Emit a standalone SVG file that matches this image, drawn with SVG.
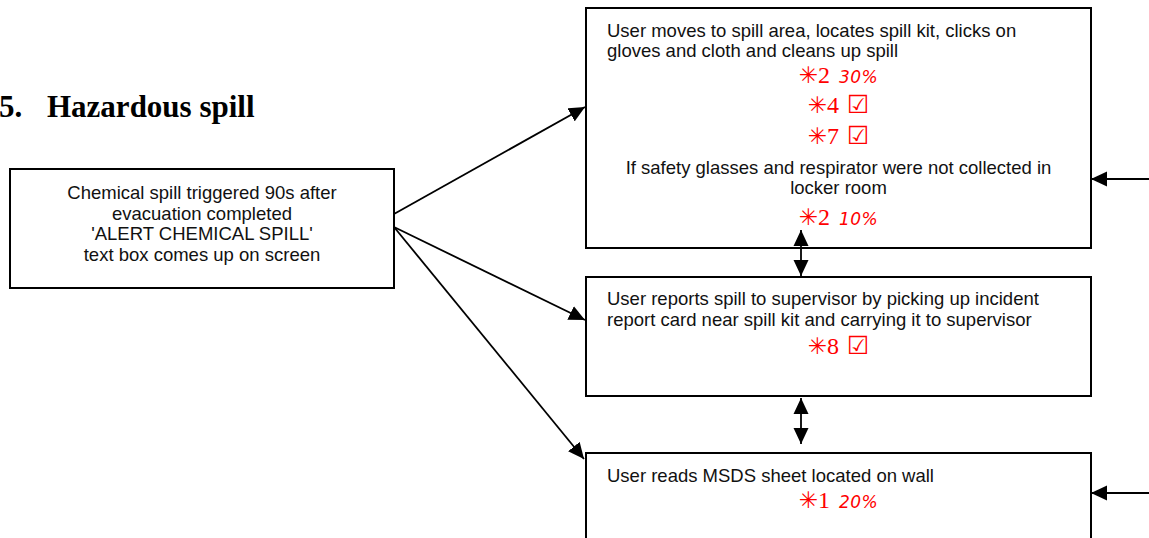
<svg xmlns="http://www.w3.org/2000/svg" width="1149" height="538" viewBox="0 0 1149 538">
<style>
.box{fill:#fff;stroke:#000;stroke-width:2}
.t{font-family:"Liberation Sans",Arial,sans-serif;font-size:18.5px;fill:#111}
.h{font-family:"Liberation Serif","Times New Roman",serif;font-size:31px;font-weight:bold;fill:#000}
.r{fill:#ff0000;text-anchor:middle}
.ast{font-family:"DejaVu Sans",sans-serif;font-size:23px}
.num{font-family:"Liberation Serif","DejaVu Serif",serif;font-size:24px}
.pct{font-family:"DejaVu Sans",sans-serif;font-style:italic;font-size:17px;letter-spacing:0.5px}
.chk{font-family:"DejaVu Sans",sans-serif;font-size:25px}
.c{fill:none;stroke:#000;stroke-width:1.8}
</style>
<defs>
<marker id="ah" markerUnits="userSpaceOnUse" markerWidth="16" markerHeight="16" refX="16" refY="7.5" orient="auto-start-reverse" viewBox="0 0 16 15">
<path d="M0,0 L16,7.5 L0,15 z" fill="#000"/>
</marker>
</defs>
<rect width="1149" height="538" fill="#fff"/>
<text class="h" y="117"><tspan x="-1">5.</tspan><tspan x="47">Hazardous spill</tspan></text>

<g id="start">
<rect class="box" x="10" y="169" width="384" height="119"/>
<text class="t" text-anchor="middle"><tspan x="202" y="199">Chemical spill triggered 90s after</tspan><tspan x="202" y="219.5">evacuation completed</tspan><tspan x="202" y="240">'ALERT CHEMICAL SPILL'</tspan><tspan x="202" y="260.5">text box comes up on screen</tspan></text>
</g>

<g id="cleanup">
<rect class="box" x="586" y="8" width="505" height="240"/>
<text class="t"><tspan x="607" y="36.5">User moves to spill area, locates spill kit, clicks on</tspan><tspan x="607" y="56.5">gloves and cloth and cleans up spill</tspan></text>
<text class="r" x="838.5" y="83"><tspan class="ast">✳</tspan><tspan class="num">2</tspan><tspan class="pct" dx="9">30%</tspan></text>
<text class="r" x="838.5" y="113"><tspan class="ast">✳</tspan><tspan class="num">4</tspan><tspan class="chk" dx="8">☑</tspan></text>
<text class="r" x="838.5" y="144"><tspan class="ast">✳</tspan><tspan class="num">7</tspan><tspan class="chk" dx="8">☑</tspan></text>
<text class="t" text-anchor="middle"><tspan x="838.5" y="174">If safety glasses and respirator were not collected in</tspan><tspan x="838.5" y="194">locker room</tspan></text>
<text class="r" x="838.5" y="225"><tspan class="ast">✳</tspan><tspan class="num">2</tspan><tspan class="pct" dx="9">10%</tspan></text>
</g>

<g id="report">
<rect class="box" x="586" y="277" width="505" height="119"/>
<text class="t"><tspan x="607" y="305">User reports spill to supervisor by picking up incident</tspan><tspan x="607" y="326">report card near spill kit and carrying it to supervisor</tspan></text>
<text class="r" x="838.5" y="354"><tspan class="ast">✳</tspan><tspan class="num">8</tspan><tspan class="chk" dx="8">☑</tspan></text>
</g>

<g id="msds">
<rect class="box" x="586" y="453" width="505" height="100"/>
<text class="t" x="607" y="482">User reads MSDS sheet located on wall</text>
<text class="r" x="838.5" y="508"><tspan class="ast">✳</tspan><tspan class="num">1</tspan><tspan class="pct" dx="9">20%</tspan></text>
</g>

<g id="connectors">
<line class="c" x1="394" y1="214" x2="585" y2="107" marker-end="url(#ah)"/>
<line class="c" x1="394" y1="227" x2="585" y2="320" marker-end="url(#ah)"/>
<line class="c" x1="394" y1="227" x2="584" y2="459" marker-end="url(#ah)"/>
<line class="c" x1="801" y1="230" x2="801" y2="276" marker-start="url(#ah)" marker-end="url(#ah)"/>
<line class="c" x1="801" y1="398" x2="801" y2="444" marker-start="url(#ah)" marker-end="url(#ah)"/>
<line class="c" x1="1149" y1="179" x2="1091" y2="179" marker-end="url(#ah)"/>
<line class="c" x1="1149" y1="493" x2="1091" y2="493" marker-end="url(#ah)"/>
</g>
</svg>
